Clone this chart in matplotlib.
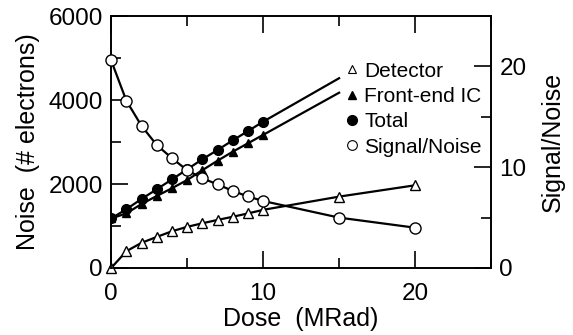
import numpy as np
import matplotlib
matplotlib.use("Agg")
import matplotlib.pyplot as plt
from matplotlib.lines import Line2D
from matplotlib.ticker import MultipleLocator

plt.rcParams['font.family'] = ['Liberation Sans', 'DejaVu Sans']

# data
dose_fine = [0, 1, 2, 3, 4, 5, 6, 7, 8, 9, 10]
dose_all = [0, 1, 2, 3, 4, 5, 6, 7, 8, 9, 10, 15, 20]
detector = [0, 400, 600, 740, 875, 980, 1065, 1145, 1220, 1300, 1385, 1700, 1970]
frontend = [1180, 1300, 1525, 1715, 1900, 2095, 2330, 2555, 2770, 2970, 3170, 4175]
total = [1180, 1400, 1645, 1875, 2110, 2350, 2590, 2810, 3040, 3260, 3485, 4520]
snr = [20.6, 16.6, 14.1, 12.2, 10.9, 9.7, 8.9, 8.3, 7.65, 7.1, 6.65, 5.0, 4.0]
dose_line = dose_fine + [15]

fig = plt.figure(figsize=(5.73, 3.35), dpi=100)
ax = fig.add_axes([0.194, 0.2, 0.663, 0.752])
ax2 = ax.twinx()

lw = 1.6
ms = 7
ax.plot(dose_line, total, color='k', lw=lw, marker='o', ms=ms, mfc='k', mec='k',
        markevery=list(range(len(dose_fine))), zorder=3)
ax.plot(dose_line, frontend, color='k', lw=lw, marker='^', ms=ms - 1, mfc='k', mec='k',
        markevery=list(range(len(dose_fine))), zorder=3)
ax.plot(dose_all, detector, color='k', lw=lw, marker='^', ms=ms, mfc='white', mec='k',
        mew=1, zorder=3, clip_on=False)
ax2.plot(dose_all, snr, color='k', lw=lw, marker='o', ms=ms + 1, mfc='white', mec='k',
         mew=1, zorder=3, clip_on=False)

ax.set_xlim(0, 25)
ax.set_ylim(0, 6000)
ax2.set_ylim(0, 25)

ax.xaxis.set_major_locator(MultipleLocator(10))
ax.xaxis.set_minor_locator(MultipleLocator(5))
ax.yaxis.set_major_locator(MultipleLocator(2000))
ax.yaxis.set_minor_locator(MultipleLocator(1000))
ax2.yaxis.set_major_locator(MultipleLocator(10))
ax2.yaxis.set_minor_locator(MultipleLocator(5))

fs = 17.5
ax.tick_params(which='both', direction='in', top=True, labelsize=fs, width=1.2)
ax.tick_params(which='major', length=12)
ax.tick_params(which='minor', length=7)
ax.tick_params(axis='x', pad=11)
ax.tick_params(axis='y', pad=6)
ax2.tick_params(which='both', direction='in', labelsize=fs, width=1.2, pad=6)
ax2.tick_params(which='major', length=12)
ax2.tick_params(which='minor', length=7)
for a in (ax, ax2):
    for s in a.spines.values():
        s.set_linewidth(1.2)

ax.set_xlabel("Dose  (MRad)", fontsize=18, labelpad=1)
ax.set_ylabel("Noise  (# electrons)", fontsize=18, labelpad=6)
ax2.set_ylabel("Signal/Noise", fontsize=18, labelpad=10)

handles = [
    Line2D([], [], ls='none', marker='^', ms=6, mfc='white', mec='k', mew=0.8),
    Line2D([], [], ls='none', marker='^', ms=6, mfc='k', mec='k'),
    Line2D([], [], ls='none', marker='o', ms=7, mfc='k', mec='k'),
    Line2D([], [], ls='none', marker='o', ms=7, mfc='white', mec='k', mew=0.8),
]
labels = ["Detector", "Front-end IC", "Total", "Signal/Noise"]
ax2.legend(handles, labels, loc='upper right', bbox_to_anchor=(1.003, 0.86),
           frameon=False, fontsize=15, handlelength=0.6, handletextpad=0.3,
           labelspacing=0.3, borderpad=0)

fig.savefig("out.png", dpi=100)
